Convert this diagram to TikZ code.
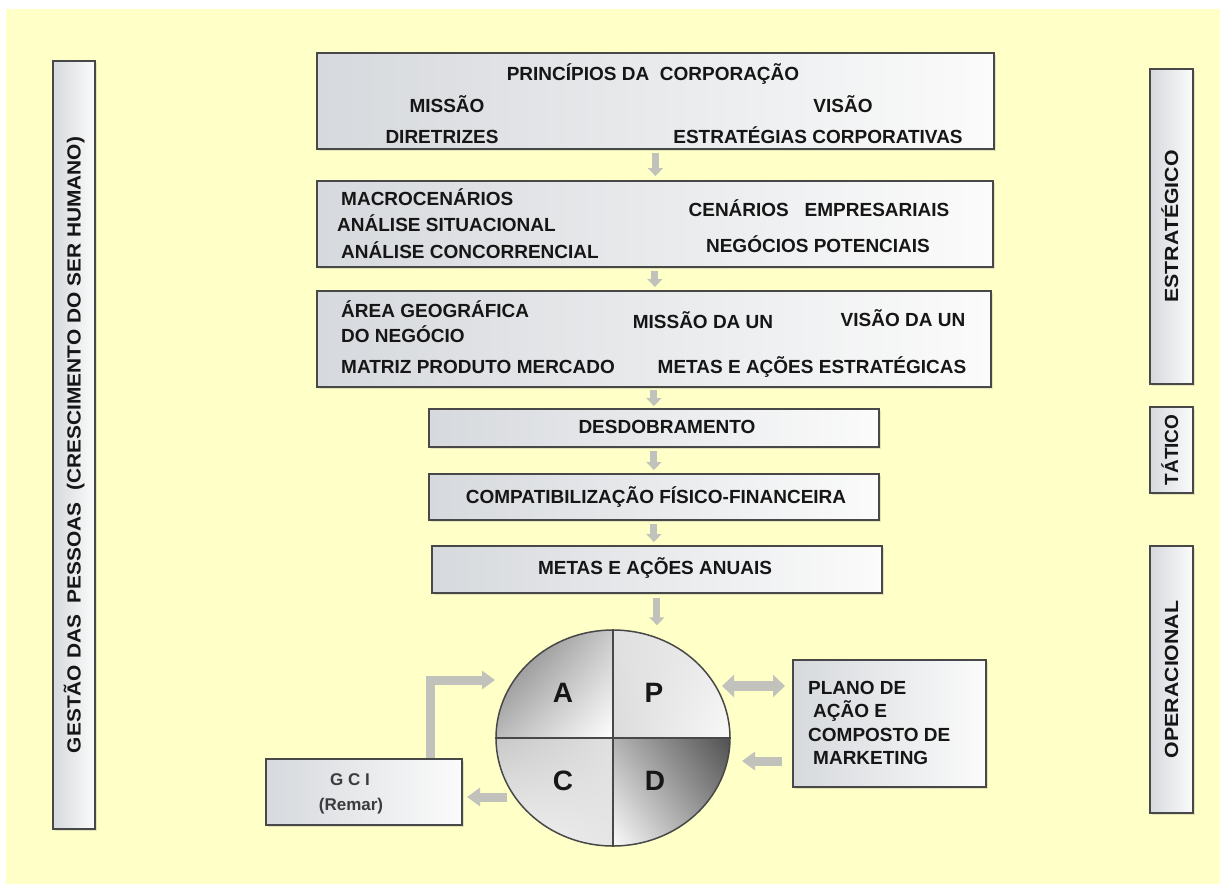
\documentclass[tikz,border=0pt]{standalone}
\usepackage{fontspec}
\setmainfont{Liberation Sans}
\usetikzlibrary{arrows.meta,shapes.geometric,shadows,shadings}

\definecolor{paper}{RGB}{255,255,200}
\definecolor{boxline}{RGB}{72,72,72}
\definecolor{boxgrey}{RGB}{214,217,221}
\definecolor{boxlight}{RGB}{251,251,251}
\definecolor{ink}{RGB}{22,22,22}
\definecolor{softink}{RGB}{60,60,60}
\definecolor{flow}{RGB}{194,194,188}

\begin{document}
\begin{tikzpicture}[x=1pt,y=-1pt,
  panel/.style={draw=boxline, line width=1.8pt, left color=boxgrey, right color=boxlight,
    inner sep=0pt, anchor=north west,
    drop shadow={shadow xshift=2pt, shadow yshift=-2pt, opacity=0.22}},
  lbl/.style={text=ink, font=\fontsize{19}{22}\selectfont\bfseries, inner sep=0pt,
    text height=13.6pt, text depth=0pt},
  sidelbl/.style={lbl, rotate=90},
  quad/.style={text=ink, font=\fontsize{28}{30}\selectfont\bfseries, inner sep=0pt},
  gcilbl/.style={text=softink, font=\fontsize{17}{20}\selectfont\bfseries, inner sep=0pt,
    text height=12pt, text depth=0pt},
  stepflow/.style={draw=flow, line width=7pt, -{Triangle[width=15pt,length=8pt]}},
  flowarrow/.style={draw=flow, line width=9pt, -{Triangle[width=18pt,length=13pt]}},
  twoway/.style={draw=flow, line width=10pt, {Triangle[width=22pt,length=12pt]}-{Triangle[width=22pt,length=12pt]}}
]
% page and yellow sheet
\useasboundingbox (0,0) rectangle (1220,884);
\fill[white] (0,0) rectangle (1220,884);
\fill[paper] (6,9) rectangle (1220,884);

% side bars
\node[panel, minimum width=42, minimum height=768] (people) at (52,60) {};
\node[sidelbl] (peopletxt) at (people.center) {\scalebox{1.1}[1]{GESTÃO DAS\ \ PESSOAS\ \ (CRESCIMENTO DO SER HUMANO)}};
\node[panel, minimum width=43, minimum height=315] (strat) at (1149,68) {};
\node[sidelbl] (strattxt) at (strat.center) {\scalebox{1.12}[1]{ESTRATÉGICO}};
\node[panel, minimum width=43, minimum height=86] (tact) at (1149,406) {};
\node[sidelbl] (tacttxt) at (tact.center) {TÁTICO};
\node[panel, minimum width=43, minimum height=267] (oper) at (1149,545) {};
\node[sidelbl] (opertxt) at (oper.center) {\scalebox{1.12}[1]{OPERACIONAL}};

% planning stages
\node[panel, minimum width=677, minimum height=96] (b1) at (316,52) {};
\node[lbl] (b1t) at (653,74) {PRINCÍPIOS DA\ \ CORPORAÇÃO};
\node[lbl] (b1a) at (447,106) {MISSÃO};
\node[lbl] (b1b) at (843,106) {VISÃO};
\node[lbl] (b1c) at (442,137) {DIRETRIZES};
\node[lbl] (b1d) at (818,137) {ESTRATÉGIAS CORPORATIVAS};

\node[panel, minimum width=676, minimum height=86] (b2) at (316,180) {};
\node[lbl, anchor=west] (b2a) at (341,199) {MACROCENÁRIOS};
\node[lbl, anchor=west] (b2b) at (337,225) {ANÁLISE SITUACIONAL};
\node[lbl, anchor=west] (b2c) at (341,252) {ANÁLISE CONCORRENCIAL};
\node[lbl] (b2d) at (819,210) {CENÁRIOS\ \ \ EMPRESARIAIS};
\node[lbl] (b2e) at (818,246) {NEGÓCIOS POTENCIAIS};

\node[panel, minimum width=674, minimum height=96] (b3) at (316,290) {};
\node[lbl, anchor=west] (b3a) at (341,311) {ÁREA GEOGRÁFICA};
\node[lbl, anchor=west] (b3b) at (341,336) {DO NEGÓCIO};
\node[lbl] (b3c) at (703,322) {MISSÃO DA UN};
\node[lbl] (b3d) at (903,320) {VISÃO DA UN};
\node[lbl, anchor=west] (b3e) at (341,367) {MATRIZ PRODUTO MERCADO};
\node[lbl] (b3f) at (812,367) {METAS E AÇÕES ESTRATÉGICAS};

\node[panel, minimum width=450, minimum height=38] (b4) at (428,408) {};
\node[lbl] (b4t) at (667,427) {DESDOBRAMENTO};
\node[panel, minimum width=450, minimum height=46] (b5) at (428,473) {};
\node[lbl] (b5t) at (656,497) {COMPATIBILIZAÇÃO FÍSICO-FINANCEIRA};
\node[panel, minimum width=450, minimum height=47] (b6) at (431,545) {};
\node[lbl] (b6t) at (655,568) {METAS E AÇÕES ANUAIS};

% PDCA wheel
\begin{scope}
  \clip (613,738) ellipse [x radius=117, y radius=108];
  \shade[upper left=black!58, upper right=black!22, lower left=black!28, lower right=white] (490,625) rectangle (613,738);
  \shade[upper left=black!12, upper right=black!8, lower left=black!14, lower right=black!2] (613,625) rectangle (736,738);
  \shade[upper left=black!22, upper right=black!12, lower left=black!3, lower right=black!10] (490,738) rectangle (613,852);
  \shade[upper left=black!30, upper right=black!70, lower left=white, lower right=black!45] (613,738) rectangle (736,852);
\end{scope}
\node[ellipse, draw=boxline, line width=1.5pt, minimum width=234, minimum height=216, inner sep=0pt] (pdca) at (613,738) {};
\draw[boxline, line width=1.4pt] (pdca.north) -- (pdca.south);
\draw[boxline, line width=1.4pt] (pdca.west) -- (pdca.east);
\node[quad] (qa) at (563,693) {A};
\node[quad] (qp) at (654,693) {P};
\node[quad] (qc) at (563,781) {C};
\node[quad] (qd) at (655,781) {D};

% control and action plan boxes
\node[panel, minimum width=196, minimum height=66] (gci) at (265,758) {};
\node[gcilbl] (gcit) at (350,779) {G C I};
\node[gcilbl] (gcir) at (351,804) {(Remar)};

\node[panel, minimum width=193, minimum height=127] (plano) at (792,659) {};
\node[lbl, anchor=west] (pl1) at (808,688) {PLANO DE};
\node[lbl, anchor=west] (pl2) at (813,711) {AÇÃO E};
\node[lbl, anchor=west] (pl3) at (808,735) {COMPOSTO DE};
\node[lbl, anchor=west] (pl4) at (813,758) {MARKETING};

% stage-to-stage arrows
\draw[stepflow, shorten <=3pt, shorten >=4pt] (b1.south) -- (b1.south |- b2.north);
\draw[stepflow, shorten <=3pt, shorten >=3pt] (b2.south) -- (b2.south |- b3.north);
\draw[stepflow, shorten <=2pt, shorten >=2pt] (b3.south) -- (b3.south |- b4.north);
\draw[stepflow, shorten <=3pt, shorten >=3pt] (b4.south) -- (b4.south |- b5.north);
\draw[stepflow, shorten <=3pt, shorten >=3pt] (b5.south) -- (b5.south |- b6.north);
\draw[stepflow, shorten <=4pt, shorten >=4pt] (b6.south) -- (b6.south |- pdca.north);

% wheel connections
\coordinate (twoL) at (722,686);
\coordinate (twoR) at (785,686);
\draw[twoway] (twoL) -- (twoR);
\coordinate (planIn) at (742,761);
\draw[flowarrow, shorten <=10pt] (plano.west |- planIn) -- (planIn);
\coordinate (gciOut) at (507,797);
\coordinate (gciIn) at (467,797);
\draw[flowarrow] (gciOut) -- (gciIn);
\coordinate (gciUp) at (430,758);
\coordinate (aIn) at (495,680);
\draw[flowarrow] (gciUp) |- (aIn);
\end{tikzpicture}
\end{document}
